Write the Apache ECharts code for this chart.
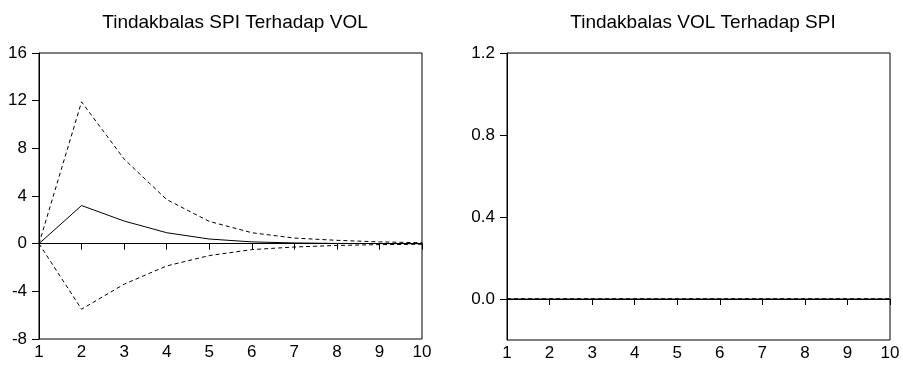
<!DOCTYPE html>
<html>
<head>
<meta charset="utf-8">
<script src="https://cdn.jsdelivr.net/npm/echarts@6/dist/echarts.min.js"></script>
<style>
  html, body { margin: 0; padding: 0; background: #fff; }
  #chart { width: 903px; height: 365px; }
</style>
</head>
<body>
<div id="chart"></div>
<script>
// periods
const periods = ['1', '2', '3', '4', '5', '6', '7', '8', '9', '10']

// SPI response to VOL
const spiResp = [0, 3.2, 1.9, 0.92, 0.39, 0.15, 0.06, 0.02, 0.01, 0]
const spiUpper = [0, 11.9, 7.1, 3.7, 1.87, 0.92, 0.47, 0.28, 0.15, 0.08]
const spiLower = [0, -5.5, -3.4, -1.87, -1.0, -0.5, -0.28, -0.15, -0.08, -0.05]

// VOL response to SPI (flat)
const volResp = [0, 0, 0, 0, 0, 0, 0, 0, 0, 0]
const volUpper = [0, 0, 0, 0, 0, 0, 0, 0, 0, 0]
const volLower = [0, 0, 0, 0, 0, 0, 0, 0, 0, 0]

const volTicks = [0, 0.4, 0.8, 1.2]

const font = 'Liberation Sans, Arial, sans-serif'

const xAxisBase = (idx) => ({
  type: 'category',
  gridIndex: idx,
  data: periods,
  boundaryGap: false,
  axisLine: { lineStyle: { color: '#000', width: 1 } },
  axisTick: { alignWithLabel: true, length: 6, lineStyle: { color: '#000' } },
  axisLabel: { color: '#000', fontSize: 17, fontFamily: font, margin: 5, interval: 0 },
  splitLine: { show: false }
})

const line = (name, data, idx, dashed) => ({
  name,
  type: 'line',
  xAxisIndex: idx,
  yAxisIndex: idx,
  data,
  symbol: 'none',
  silent: true,
  animation: false,
  lineStyle: { color: '#000', width: 1, type: dashed ? [4, 3] : 'solid' }
})

const zeroLine = {
  silent: true,
  symbol: 'none',
  label: { show: false },
  lineStyle: { color: '#000', width: 1, type: 'solid' },
  data: [{ yAxis: 0 }]
}

const titleStyle = { fontSize: 19, fontWeight: 'normal', color: '#000', fontFamily: font }

const chart = echarts.init(document.getElementById('chart'))
chart.setOption({
  backgroundColor: '#fff',
  animation: false,
  title: [
    { text: 'Tindakbalas SPI Terhadap VOL', left: 230, top: 8, textAlign: 'center', textStyle: titleStyle },
    { text: 'Tindakbalas VOL Terhadap SPI', left: 698, top: 8, textAlign: 'center', textStyle: titleStyle }
  ],
  grid: [
    { left: 39, right: 481, top: 53, bottom: 26, show: true, borderColor: '#000', borderWidth: 1 },
    { left: 507, right: 13, top: 53, bottom: 25, show: true, borderColor: '#000', borderWidth: 1 }
  ],
  xAxis: [xAxisBase(0), xAxisBase(1)],
  yAxis: [
    {
      type: 'value', gridIndex: 0, min: -8, max: 16, interval: 4,
      axisLine: { show: true, lineStyle: { color: '#000' } },
      axisTick: { show: true, length: 7, lineStyle: { color: '#000' } },
      axisLabel: { color: '#000', fontSize: 17, fontFamily: font, margin: 12 },
      splitLine: { show: false }
    },
    {
      type: 'value', gridIndex: 1, min: -0.2, max: 1.2,
      axisLine: { show: true, lineStyle: { color: '#000' } },
      axisTick: { show: true, length: 7, lineStyle: { color: '#000' }, customValues: volTicks },
      axisLabel: { color: '#000', fontSize: 17, fontFamily: font, margin: 12,
        customValues: volTicks, formatter: (v) => v.toFixed(1) },
      splitLine: { show: false }
    }
  ],
  series: [
    Object.assign(line('resp', spiResp, 0, false), { markLine: zeroLine }),
    line('upper', spiUpper, 0, true),
    line('lower', spiLower, 0, true),
    Object.assign(line('resp2', volResp, 1, false), { markLine: zeroLine }),
    line('upper2', volUpper, 1, true),
    line('lower2', volLower, 1, true)
  ]
})
</script>
</body>
</html>
